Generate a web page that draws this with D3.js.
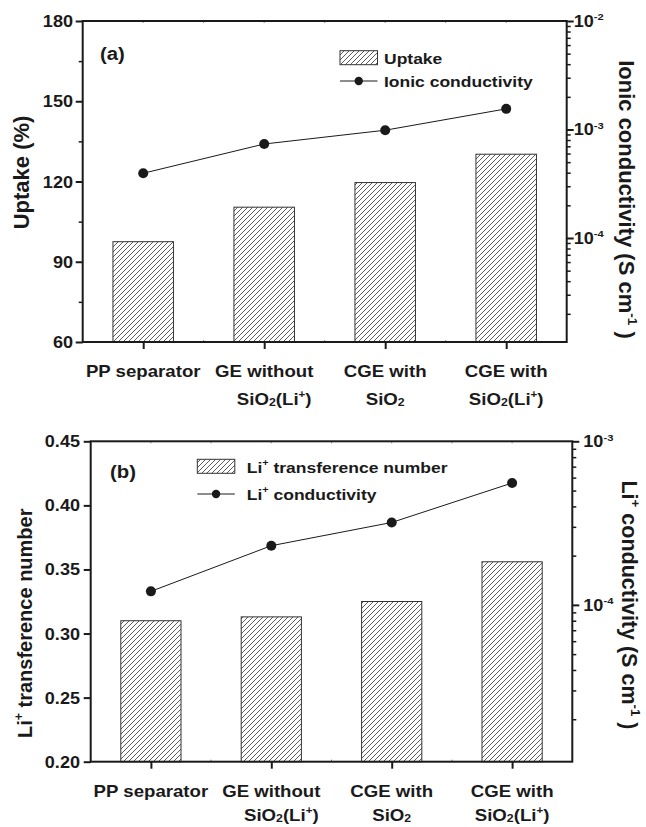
<!DOCTYPE html>
<html><head><meta charset="utf-8">
<script src="https://cdn.jsdelivr.net/npm/d3@7"></script>
<style>body{margin:0;background:#fff}svg{display:block}text{font-family:"Liberation Sans",Arial,sans-serif;font-weight:bold;fill:#1a1a1a}</style>
</head><body>
<script>
// ---- data ----
const categories = [["PP separator"], ["GE without", "SiO_{2}(Li^{+})"], ["CGE with", "SiO_{2}"], ["CGE with", "SiO_{2}(Li^{+})"]];
const uptake = [97.5, 110.4, 119.6, 130.2];
const ionicConductivity = [3.95e-4, 7.35e-4, 9.85e-4, 1.55e-3];
const transferenceNumber = [0.310, 0.313, 0.325, 0.356];
const liConductivity = [1.21e-4, 2.30e-4, 3.19e-4, 5.56e-4];
const uptakeTicks = [60, 90, 120, 150, 180];
const uptakeMinor = [75, 105, 135, 165];
const transTicks = [0.20, 0.25, 0.30, 0.35, 0.40, 0.45];
const ionicTicks = [1e-4, 1e-3, 1e-2];
const ionicTickLabels = ["10^{-4}", "10^{-3}", "10^{-2}"];
const liTicks = [1e-4, 1e-3];
const liTickLabels = ["10^{-4}", "10^{-3}"];

const W = 646, H = 827, SX = 1.13, INK = "#1a1a1a";
const svg = d3.select("body").append("svg").attr("width", W).attr("height", H);

const defs = svg.append("defs");
const pat = defs.append("pattern").attr("id", "hatch").attr("patternUnits", "userSpaceOnUse")
  .attr("width", 5).attr("height", 5);
pat.append("rect").attr("width", 5).attr("height", 5).attr("fill", "#fff");
pat.append("path").attr("d", "M-1,6 L6,-1 M-2,1 L1,-2 M4,7 L7,4").attr("stroke", "#333").attr("stroke-width", 0.8);

function rich(t, str, size) {
  const parts = str.match(/(\^\{[^}]*\}|_\{[^}]*\}|[^^_]+)/g);
  let shift = 0;
  parts.forEach(p => {
    if (p[0] === "^") {
      const d = -size * 0.42;
      t.append("tspan").attr("font-size", size * 0.62).attr("dy", d - shift).text(p.slice(2, -1));
      shift = d;
    } else if (p[0] === "_") {
      const d = size * 0.12;
      t.append("tspan").attr("font-size", size * 0.66).attr("dy", d - shift).text(p.slice(2, -1));
      shift = d;
    } else {
      t.append("tspan").attr("dy", -shift).text(p);
      shift = 0;
    }
  });
  return t;
}
function label(parent, x, y, str, size, anchor, sx) {
  const g = parent.append("g").attr("transform", `translate(${x},${y}) scale(${sx === undefined ? SX : sx},1)`);
  const t = g.append("text").attr("text-anchor", anchor).attr("font-size", size);
  return rich(t, str, size);
}
function rotLabel(parent, x, y, str, size, angle) {
  const t = parent.append("text").attr("transform", `translate(${x},${y}) rotate(${angle})`)
    .attr("text-anchor", "middle").attr("font-size", size);
  return rich(t, str, size);
}

function panel(cfg) {
  const g = svg.append("g");
  const x = d3.scaleLinear().domain([0.5, categories.length + 0.5]).range([cfg.x0, cfg.x1]);
  const yL = d3.scaleLinear().domain(cfg.leftDomain).range([cfg.y1, cfg.y0]);
  const yR = d3.scaleLog().domain(cfg.rightDomain).range([cfg.y1, cfg.y0]);
  const bw = (x(2) - x(1)) / 2;

  // bars
  g.selectAll("rect.bar").data(cfg.bars).join("rect").attr("class", "bar")
    .attr("x", (d, i) => x(i + 1) - bw / 2).attr("width", bw)
    .attr("y", d => yL(d)).attr("height", d => yL(cfg.leftDomain[0]) - yL(d))
    .attr("fill", "url(#hatch)").attr("stroke", "#333").attr("stroke-width", 1);

  // line + markers
  const line = d3.line().x((d, i) => x(i + 1)).y(d => yR(d));
  g.append("path").attr("d", line(cfg.points)).attr("fill", "none").attr("stroke", INK).attr("stroke-width", 1);
  g.selectAll("circle.pt").data(cfg.points).join("circle").attr("class", "pt")
    .attr("cx", (d, i) => x(i + 1)).attr("cy", d => yR(d)).attr("r", 5).attr("fill", INK);

  // top axis faint ticks
  const topTicks = d3.range(1, categories.length + 0.01, 0.5);
  g.selectAll("line.tt").data(topTicks).join("line").attr("class", "tt")
    .attr("x1", d => x(d)).attr("x2", d => x(d)).attr("y1", cfg.y0).attr("y2", cfg.y0 + 2)
    .attr("stroke", "#888").attr("stroke-width", 1);
  // bottom axis ticks
  const bottomAxis = d3.axisBottom(x).tickValues(d3.range(1, categories.length + 1)).tickSize(7).tickFormat("");
  const ba = g.append("g").attr("transform", `translate(0,${cfg.y1})`).call(bottomAxis);
  ba.select(".domain").remove();
  ba.selectAll("line").attr("stroke", INK).attr("stroke-width", 2);
  g.selectAll("line.bm").data(d3.range(1.5, categories.length, 1)).join("line").attr("class", "bm")
    .attr("x1", d => x(d)).attr("x2", d => x(d)).attr("y1", cfg.y1).attr("y2", cfg.y1 - 2)
    .attr("stroke", "#888").attr("stroke-width", 1);

  // left axis
  const la = g.append("g").attr("transform", `translate(${cfg.x0},0)`)
    .call(d3.axisLeft(yL).tickValues(cfg.leftTicks).tickSize(7).tickFormat(""));
  la.select(".domain").remove();
  la.selectAll("line").attr("stroke", INK).attr("stroke-width", 2);
  if (cfg.leftMinor) {
    const lm = g.append("g").attr("transform", `translate(${cfg.x0},0)`)
      .call(d3.axisLeft(yL).tickValues(cfg.leftMinor).tickSize(4).tickFormat(""));
    lm.select(".domain").remove();
    lm.selectAll("line").attr("stroke", INK).attr("stroke-width", 1.5);
  }
  cfg.leftTicks.forEach(v => {
    label(g, cfg.leftLabelX, yL(v) + 6, cfg.leftFmt(v), 16, "end");
  });

  // right axis (log)
  const minor = [];
  const lo = Math.floor(Math.log10(cfg.rightDomain[0])), hi = Math.ceil(Math.log10(cfg.rightDomain[1]));
  for (let e = lo; e < hi; e++) for (let m = 2; m <= 9; m++) {
    const v = m * Math.pow(10, e);
    if (v >= cfg.rightDomain[0] && v <= cfg.rightDomain[1]) minor.push(v);
  }
  const rm = g.append("g").attr("transform", `translate(${cfg.x1},0)`)
    .call(d3.axisRight(yR).tickValues(minor).tickSize(4).tickFormat(""));
  rm.select(".domain").remove();
  rm.selectAll("line").attr("stroke", INK).attr("stroke-width", 1.5);
  const ra = g.append("g").attr("transform", `translate(${cfg.x1},0)`)
    .call(d3.axisRight(yR).tickValues(cfg.rightTicks).tickSize(7).tickFormat(""));
  ra.select(".domain").remove();
  ra.selectAll("line").attr("stroke", INK).attr("stroke-width", 2);
  cfg.rightTicks.forEach((v, i) => {
    label(g, cfg.x1 + cfg.rightLabelDx, yR(v) + 6, cfg.rightLabels[i], 16, "start");
  });

  // frame
  g.append("rect").attr("x", cfg.x0).attr("y", cfg.y0).attr("width", cfg.x1 - cfg.x0).attr("height", cfg.y1 - cfg.y0)
    .attr("fill", "none").attr("stroke", INK).attr("stroke-width", 2);

  // category labels
  categories.forEach((lines, i) => {
    lines.forEach((s, j) => {
      label(g, x(i + 1) + (j > 0 ? (cfg.line2Dx[i] || 0) : 0), cfg.catY[j], s, 16.5, "middle");
    });
  });

  // titles
  rotLabel(g, cfg.leftTitle[0], cfg.leftTitle[1], cfg.leftTitleText, cfg.leftTitleSize, -90);
  rotLabel(g, cfg.rightTitle[0], cfg.rightTitle[1], cfg.rightTitleText, cfg.rightTitleSize, 90);
  label(g, cfg.tag[0], cfg.tag[1], cfg.tagText, 18, "start");

  // legend
  const L = cfg.legend;
  g.append("rect").attr("x", L.x).attr("y", L.y).attr("width", 37.5).attr("height", 14)
    .attr("fill", "url(#hatch)").attr("stroke", "#333").attr("stroke-width", 1);
  label(g, L.tx, L.y + 13.5, L.t1, 15.5, "start");
  g.append("line").attr("x1", L.x).attr("x2", L.x + 37.5).attr("y1", L.y + L.dy2).attr("y2", L.y + L.dy2)
    .attr("stroke", INK).attr("stroke-width", 1);
  g.append("circle").attr("cx", L.x + 18.75).attr("cy", L.y + L.dy2).attr("r", 4.2).attr("fill", INK);
  label(g, L.tx, L.y + L.dy2 + 5.5, L.t2, 15.5, "start");
}

panel({
  x0: 82.7, x1: 566.7, y0: 21, y1: 342,
  leftDomain: [60, 180], rightDomain: [1.1e-5, 1e-2],
  bars: uptake, points: ionicConductivity,
  leftTicks: uptakeTicks, leftMinor: uptakeMinor, leftFmt: d3.format("d"), leftLabelX: 73,
  rightTicks: ionicTicks, rightLabels: ionicTickLabels, rightLabelDx: 7,
  catY: [376.7, 404.5], line2Dx: [0, 10, 0, 0],
  leftTitle: [28.5, 172.5], leftTitleText: "Uptake (%)", leftTitleSize: 22,
  rightTitle: [618.5, 199.5], rightTitleText: "Ionic conductivity (S cm^{-1} )", rightTitleSize: 22,
  tag: [100, 60], tagText: "(a)",
  legend: { x: 340, y: 50.7, tx: 384, dy2: 30.3, t1: "Uptake", t2: "Ionic conductivity" }
});

panel({
  x0: 90.7, x1: 572.3, y0: 441.3, y1: 761.7,
  leftDomain: [0.20, 0.45], rightDomain: [1.1e-5, 1e-3],
  bars: transferenceNumber, points: liConductivity,
  leftTicks: transTicks, leftMinor: null, leftFmt: d3.format(".2f"), leftLabelX: 80,
  rightTicks: liTicks, rightLabels: liTickLabels, rightLabelDx: 11,
  catY: [797.3, 820.5], line2Dx: [0, 10, 0, 0],
  leftTitle: [31.5, 623.3], leftTitleText: "Li^{+} transference number", leftTitleSize: 20,
  rightTitle: [621.5, 605], rightTitleText: "Li^{+} conductivity (S cm^{-1} )", rightTitleSize: 21.5,
  tag: [110, 478.3], tagText: "(b)",
  legend: { x: 197.3, y: 459.3, tx: 246.7, dy2: 34.7, t1: "Li^{+} transference number", t2: "Li^{+} conductivity" }
});
</script>
</body></html>
